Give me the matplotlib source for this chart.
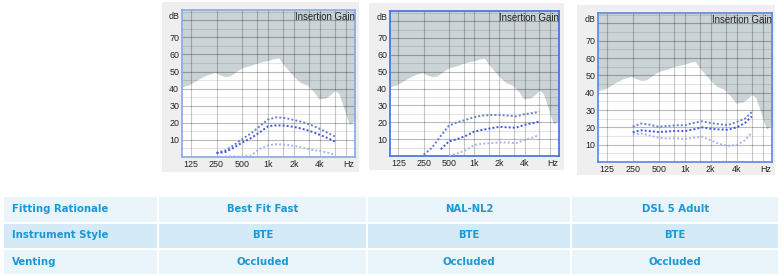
import matplotlib.pyplot as plt
import numpy as np
from matplotlib.patches import Rectangle
from matplotlib.ticker import NullLocator

W, H = 784, 276

# Frequency axis
tick_freqs = [125, 250, 500, 1000, 2000, 4000, 8700]
tick_labels = ["125", "250", "500", "1k", "2k", "4k", "Hz"]
grid_freqs = [125, 250, 500, 750, 1000, 1500, 2000, 3000, 4000, 6000, 8000]
db_ticks = [10, 20, 30, 40, 50, 60, 70, 83]
db_labels = ["10", "20", "30", "40", "50", "60", "70", "dB"]

# Upper limit curve (grey area above it)
limit_freqs = [98, 123, 160, 193, 240, 276, 316, 362, 453, 518, 620, 743, 900,
               1000, 1160, 1330, 1456, 1670, 2000, 2390, 2860, 3420, 3910, 4690,
               5360, 6000, 6700, 7600, 8300, 8900, 9900, 10500]
limit_db = [41, 42.5, 46, 48, 49.5, 48, 47, 47.5, 51, 52.5, 53.5, 55, 56,
            56.5, 57.5, 58, 55, 51.5, 47, 43.5, 42, 38, 34, 34.5,
            36.5, 39, 37, 29, 23, 19, 21, 22]

# Insertion gain curves (top / middle / bottom)
gain_freqs = [250, 315, 400, 500, 630, 800, 1000, 1250, 1600, 2000, 2500, 3150, 4000, 5000, 6000]
nan = np.nan

bff_top = [2.5, 3.8, 7, 10.5, 13.8, 18, 22, 23.2, 22.8, 21.6, 20.5, 18.8, 16.5, 14, 12]
bff_mid = [2.2, 2.9, 5.5, 8.5, 11, 14.5, 18, 18.5, 18.3, 17.6, 16.5, 15, 13, 11, 9]
bff_low = [nan, 0.3, 0.3, 0.3, 0.8, 4.8, 6.8, 7.5, 7.2, 6.5, 5.5, 4.3, 3.5, 2.5, 1.2]

nal_top = [0.8, 5, 12, 18, 20, 21.5, 23, 24, 24.3, 24.3, 24, 23.5, 24.8, 25.5, 26.3]
nal_mid = [nan, nan, 4, 8.7, 10, 12, 14.5, 15.5, 16.5, 17.3, 17, 16.8, 18.5, 19.5, 20.4]
nal_low = [nan, nan, nan, 0.3, 1.5, 3.5, 6.5, 7.3, 7.7, 8, 8, 7.6, 9.5, 11, 12.5]

dsl_top = [20.5, 22.2, 21.5, 20.3, 20.8, 21.2, 21.2, 22.5, 23.5, 22.5, 21.8, 21.3, 23, 25, 28.8]
dsl_mid = [17.2, 18.3, 17.8, 17.3, 17.6, 18, 17.8, 18.8, 20, 19.2, 18.8, 18.6, 20, 22.5, 26.3]
dsl_low = [15.9, 16.5, 15.2, 14, 13.6, 13.8, 13.2, 14, 14.6, 12.5, 10.5, 9.3, 9.8, 12.5, 16.9]

# Table
row_names = ["Fitting Rationale", "Instrument Style", "Venting"]
rationales = ["Best Fit Fast", "NAL-NL2", "DSL 5 Adult"]
styles = ["BTE", "BTE", "BTE"]
venting = ["Occluded", "Occluded", "Occluded"]

panels = [
    # (grey box, axes box in px, border colour, curves)
    ((162, 2, 359, 172), (182, 10, 355, 157), "#8aa6e6", (bff_top, bff_mid, bff_low)),
    ((369, 3, 564, 170), (390, 11, 559, 156), "#3f6fdc", (nal_top, nal_mid, nal_low)),
    ((577, 5, 775, 175), (598, 13, 772, 162), "#5a86e2", (dsl_top, dsl_mid, dsl_low)),
]
curve_colors = ["#5f82cc", "#3f55e0", "#a6b4ee"]

fig = plt.figure(figsize=(W / 100, H / 100), dpi=100)
bg = fig.add_axes([0, 0, 1, 1])
bg.set_xlim(0, W)
bg.set_ylim(H, 0)
bg.axis("off")

for box, pos, border, curves in panels:
    x0, y0, x1, y1 = box
    bg.add_patch(Rectangle((x0, y0), x1 - x0, y1 - y0, color="#efefef", lw=0))

    l, t, r, b = pos
    ax = fig.add_axes([l / W, (H - b) / H, (r - l) / W, (b - t) / H])
    ax.set_xscale("log")
    ax.set_xlim(99, 10300)
    ax.set_ylim(0, 86)
    ax.set_facecolor("white")
    ax.fill_between(limit_freqs, limit_db, 86, color="#cad3d5", lw=0, zorder=1)

    for f in grid_freqs:
        ax.axvline(f, color="black", alpha=0.22, lw=0.8, zorder=2)
    for d in range(5, 86, 5):
        a = 0.27 if d % 10 == 0 else 0.1
        ax.axhline(d, color="black", alpha=a, lw=0.8, zorder=2)

    for vals, c in zip(curves, curve_colors):
        ax.plot(gain_freqs, vals, color=c, lw=1.4, ls=(0, (1, 1.1)), zorder=3)

    ax.xaxis.set_minor_locator(NullLocator())
    ax.set_xticks(tick_freqs, tick_labels)
    ax.set_yticks(db_ticks, db_labels)
    ax.tick_params(length=0, labelsize=6.4, pad=2, colors="#222222")
    for lab in ax.get_xticklabels() + ax.get_yticklabels():
        lab.set_family("Liberation Sans")
    for s in ax.spines.values():
        s.set_color(border)
        s.set_linewidth(1.2)
    ax.text(0.997, 0.985, "Insertion Gain", transform=ax.transAxes, ha="right", va="top",
            fontsize=6.9, family="Liberation Sans", color="#222222", zorder=4)

# Table cells
col_x = [(4, 157), (159, 366), (368, 570.5), (572.5, 778)]
row_y = [(197, 222), (223.5, 247.5), (250, 273.5)]
row_colors = ["#e9f4fb", "#d4eaf7", "#e9f4fb"]
row_values = [rationales, styles, venting]
txt_color = "#1b98d5"

for i, (ya, yb) in enumerate(row_y):
    for j, (xa, xb) in enumerate(col_x):
        bg.add_patch(Rectangle((xa, ya), xb - xa, yb - ya, color=row_colors[i], lw=0))
    yc = (ya + yb) / 2
    bg.text(12, yc, row_names[i], ha="left", va="center", fontsize=7.3,
            fontweight="bold", color=txt_color)
    for j, v in enumerate(row_values[i]):
        xa, xb = col_x[j + 1]
        bg.text((xa + xb) / 2, yc, v, ha="center", va="center", fontsize=7.3,
                fontweight="bold", color=txt_color)

fig.savefig("out.png", dpi=100)
